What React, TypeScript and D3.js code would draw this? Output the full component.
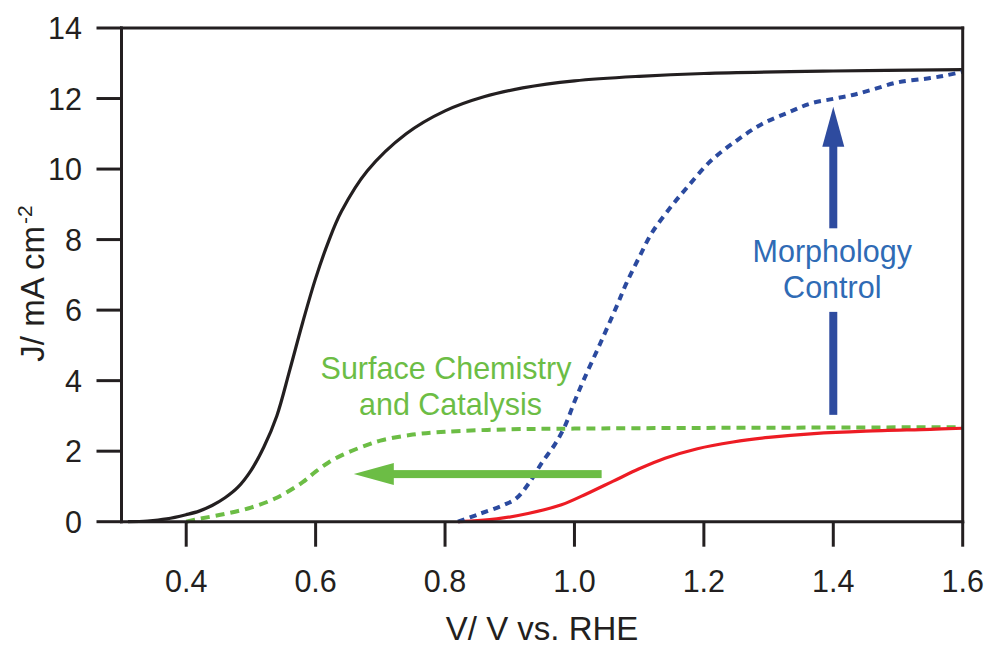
import React from "react";
import * as d3 from "d3";

// Polarization curves: current density J (mA cm^-2) vs potential (V vs. RHE)
const blackV = [0.31, 0.34, 0.37, 0.40, 0.42, 0.44, 0.46, 0.48, 0.50, 0.52, 0.54, 0.56, 0.58, 0.60, 0.62, 0.64, 0.68, 0.74, 0.80, 0.86, 0.92, 1.00, 1.10, 1.20, 1.40, 1.60];
const blackJ = [0.0, 0.02, 0.08, 0.2, 0.3, 0.46, 0.68, 0.98, 1.45, 2.12, 3.0, 4.3, 5.65, 6.9, 7.95, 8.8, 9.95, 11.0, 11.65, 12.05, 12.3, 12.5, 12.63, 12.71, 12.78, 12.82];

const greenV = [0.40, 0.42, 0.46, 0.50, 0.54, 0.58, 0.60, 0.62, 0.64, 0.66, 0.68, 0.70, 0.75, 0.80, 0.90, 1.00, 1.20, 1.40, 1.60];
const greenJ = [0.0, 0.08, 0.22, 0.4, 0.68, 1.12, 1.42, 1.68, 1.88, 2.04, 2.18, 2.3, 2.47, 2.55, 2.62, 2.64, 2.66, 2.67, 2.68];

const blueV = [0.82, 0.85, 0.89, 0.91, 0.93, 0.95, 0.97, 0.985, 1.0, 1.015, 1.04, 1.065, 1.08, 1.10, 1.12, 1.15, 1.175, 1.21, 1.25, 1.29, 1.33, 1.365, 1.40, 1.43, 1.46, 1.50, 1.55, 1.575, 1.60];
const blueJ = [0.0, 0.2, 0.47, 0.66, 1.1, 1.68, 2.2, 2.7, 3.4, 4.05, 5.06, 6.1, 6.75, 7.5, 8.2, 8.95, 9.5, 10.22, 10.8, 11.28, 11.6, 11.86, 11.99, 12.1, 12.25, 12.46, 12.58, 12.66, 12.76];

const redV = [0.82, 0.88, 0.93, 0.98, 1.02, 1.06, 1.10, 1.14, 1.19, 1.245, 1.30, 1.37, 1.45, 1.55, 1.60];
const redJ = [0.0, 0.08, 0.24, 0.48, 0.8, 1.15, 1.5, 1.8, 2.07, 2.26, 2.39, 2.5, 2.57, 2.62, 2.65];

const xTicks = [0.4, 0.6, 0.8, 1.0, 1.2, 1.4, 1.6];
const yTicks = [0, 2, 4, 6, 8, 10, 12, 14];

// Annotation anchors in data units
const morphArrow = { v: 1.4, from: 3.03, gapLow: 5.95, gapHigh: 8.32, tip: 11.77 };
const surfArrow = { j: 1.35, from: 1.042, tip: 0.659 };

const W = 989;
const H = 646;
const FONT = "'Liberation Sans', Arial, Helvetica, sans-serif";
const INK = "#231f20";

const x = d3.scaleLinear().domain([0.3, 1.6]).range([121.5, 962.7]);
const y = d3.scaleLinear().domain([0, 14]).range([521.7, 28]);

const line = d3
  .line<[number, number]>()
  .x((d) => x(d[0]))
  .y((d) => y(d[1]))
  .curve(d3.curveCatmullRom.alpha(0.5));

const pts = (vs: number[], js: number[]) => vs.map((v, i) => [v, js[i]] as [number, number]);

export default function App() {
  const tickLen = 25;
  const headLen = 40;
  const headHalf = 11;
  const shaft = 8;

  // Blue vertical arrow
  const bx = x(morphArrow.v);
  const bTip = y(morphArrow.tip);
  const bBase = bTip + headLen;
  // Green horizontal arrow
  const gy = y(surfArrow.j);
  const gTip = x(surfArrow.tip);
  const gBase = gTip + headLen;

  return (
    <svg
      width={W}
      height={H}
      style={{ position: "absolute", left: 0, top: 0, background: "#fff" }}
      fontFamily={FONT}
    >
      <rect width={W} height={H} fill="#fff" />

      {/* curves */}
      <path d={line(pts(blackV, blackJ)) || ""} fill="none" stroke={INK} strokeWidth={3.2} />
      <path
        d={line(pts(greenV, greenJ)) || ""}
        fill="none"
        stroke="#6cbd45"
        strokeWidth={4}
        strokeDasharray="9 6"
      />
      <path d={line(pts(redV, redJ)) || ""} fill="none" stroke="#ed1c24" strokeWidth={3.2} />
      <path
        d={line(pts(blueV, blueJ)) || ""}
        fill="none"
        stroke="#2b4a9f"
        strokeWidth={4}
        strokeDasharray="7 5.5"
      />

      {/* frame */}
      <g stroke={INK} strokeWidth={3} fill="none" strokeLinecap="square">
        <line x1={x(0.3)} y1={y(14)} x2={x(0.3)} y2={y(0)} />
        <line x1={x(0.3)} y1={y(0)} x2={x(1.6)} y2={y(0)} />
        <line x1={x(0.3)} y1={y(14)} x2={x(1.6)} y2={y(14)} />
        <line x1={x(1.6)} y1={y(14)} x2={x(1.6)} y2={y(0)} />
      </g>

      {/* ticks */}
      <g stroke={INK} strokeWidth={3}>
        {xTicks.map((t) => (
          <line key={t} x1={x(t)} x2={x(t)} y1={y(0)} y2={y(0) + tickLen} />
        ))}
        {yTicks.map((t) => (
          <line key={t} x1={x(0.3) - tickLen} x2={x(0.3)} y1={y(t)} y2={y(t)} />
        ))}
      </g>
      <g fill={INK} fontSize={30.5}>
        {xTicks.map((t) => (
          <text key={t} x={x(t)} y={591.5} textAnchor="middle">
            {t.toFixed(1)}
          </text>
        ))}
        {yTicks.map((t) => (
          <text key={t} x={82} y={y(t)} dy="0.36em" textAnchor="end">
            {t}
          </text>
        ))}
      </g>

      {/* axis titles */}
      <text x={(x(0.3) + x(1.6)) / 2} y={640} textAnchor="middle" fontSize={33} fill={INK}>
        V/ V vs. RHE
      </text>
      <g transform="translate(44, 361.7) rotate(-90)">
        <text x={0} y={0} fontSize={33} fill={INK}>
          J/ mA cm
          <tspan dy={-12.5} dx={2} fontSize={21}>
            -2
          </tspan>
        </text>
      </g>

      {/* Morphology Control arrow */}
      <g fill="#2e4b9f">
        <rect x={bx - shaft / 2} y={bBase - 1} width={shaft} height={y(morphArrow.gapHigh) - bBase + 1} />
        <rect x={bx - shaft / 2} y={y(morphArrow.gapLow)} width={shaft} height={y(morphArrow.from) - y(morphArrow.gapLow)} />
        <path d={`M${bx},${bTip} L${bx + headHalf},${bBase} L${bx - headHalf},${bBase} Z`} />
      </g>
      <g fill="#2f6bb5" fontSize={30.5} textAnchor="middle">
        <text x={bx - 1} y={261.7}>Morphology</text>
        <text x={bx - 1} y={298.3}>Control</text>
      </g>

      {/* Surface Chemistry and Catalysis arrow */}
      <g fill="#6cbd45">
        <rect x={gBase - 1} y={gy - shaft / 2} width={x(surfArrow.from) - gBase + 1} height={shaft} />
        <path d={`M${gTip},${gy} L${gBase},${gy - headHalf} L${gBase},${gy + headHalf} Z`} />
      </g>
      <g fill="#6cbd45" fontSize={30.5} textAnchor="middle">
        <text x={446} y={378.5}>Surface Chemistry</text>
        <text x={450.5} y={415}>and Catalysis</text>
      </g>
    </svg>
  );
}
